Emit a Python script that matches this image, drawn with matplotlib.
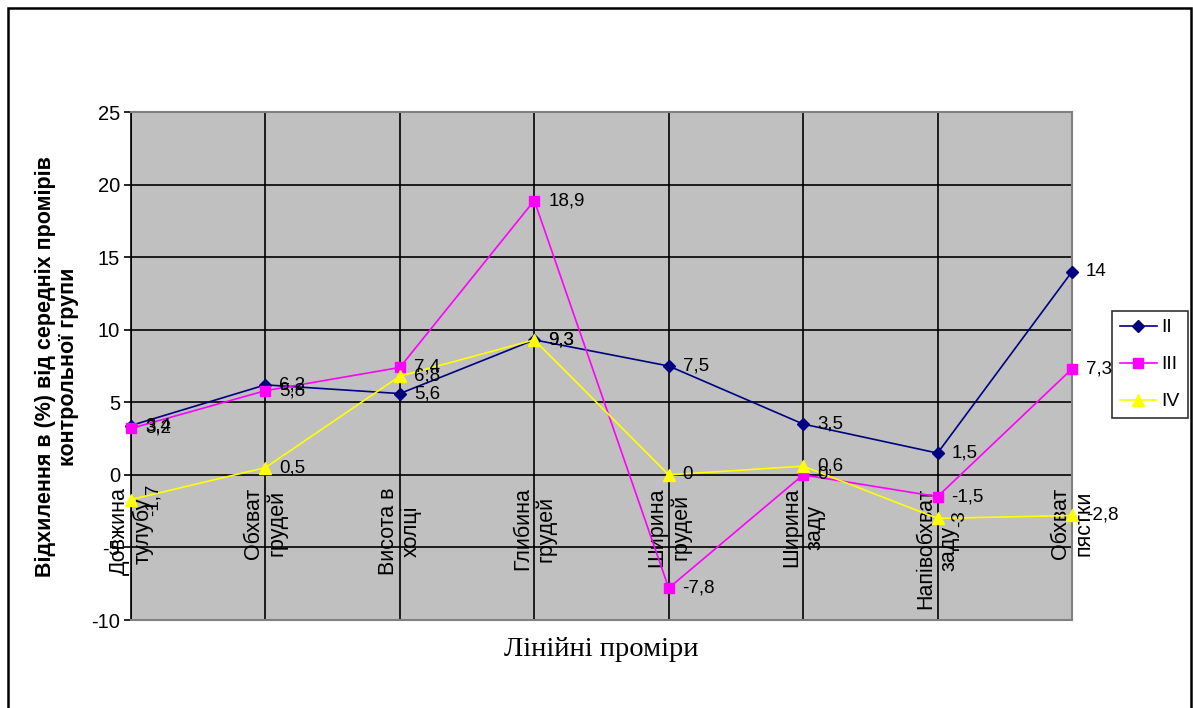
import matplotlib
matplotlib.use("Agg")
import matplotlib.pyplot as plt
from matplotlib.patches import Rectangle

categories = ["Довжина\nтулубу", "Обхват\nгрудей", "Висота в\nхолці", "Глибина\nгрудей",
              "Ширина\nгрудей", "Ширина\nзаду", "Напівобхват\nзаду", "Обхват\nпястки"]
series_names = ["II", "III", "IV"]
values_ii = [3.4, 6.2, 5.6, 9.3, 7.5, 3.5, 1.5, 14]
values_iii = [3.2, 5.8, 7.4, 18.9, -7.8, 0, -1.5, 7.3]
values_iv = [-1.7, 0.5, 6.8, 9.3, 0, 0.6, -3, -2.8]
y_ticks = [-10, -5, 0, 5, 10, 15, 20, 25]
# value labels that are set vertically (series name, category index)
vertical_labels = {("IV", 0), ("IV", 6)}

colors = ["#000080", "#FF00FF", "#FFFF00"]
markers = ["D", "s", "^"]
msizes = [6.5, 7.5, 8.5]

W, H = 1193, 708
fig = plt.figure(figsize=(W / 100, H / 100), dpi=100)
plt.rcParams["font.family"] = ["Liberation Sans", "DejaVu Sans"]

ax = fig.add_axes([131 / W, 88 / H, (1072 - 131) / W, (620 - 112) / H])
ax.set_facecolor("#C0C0C0")

x = list(range(len(categories)))
for vals, name, c, m, ms in zip([values_ii, values_iii, values_iv], series_names,
                                colors, markers, msizes):
    ax.plot(x, vals, color=c, marker=m, markersize=ms, linewidth=1.2,
            label=name, zorder=3, clip_on=False)
    for xi, v in zip(x, vals):
        lbl = ("%g" % v).replace(".", ",")
        if (name, xi) in vertical_labels:
            ax.annotate(lbl, (xi, v), xytext=(10, 0), textcoords="offset points",
                        rotation=90, ha="left", va="center", fontsize=13.5,
                        color="black", zorder=4)
        else:
            ax.annotate(lbl, (xi, v), xytext=(10, 0), textcoords="offset points",
                        ha="left", va="center", fontsize=13.5, color="black",
                        zorder=4)

ax.set_xlim(0, 7)
ax.set_ylim(-10, 25)
ax.set_yticks(y_ticks)
ax.set_yticklabels([str(t) for t in y_ticks], fontsize=14.5)
ax.tick_params(axis="y", direction="out", length=5, width=1.2, pad=3)
ax.set_xticks(x)
ax.set_xticklabels([])
ax.tick_params(axis="x", length=0)

ax.grid(True, axis="both", color="black", linewidth=1.2, zorder=1)
ax.set_axisbelow(True)

for side in ["top", "right", "bottom"]:
    ax.spines[side].set_color("#808080")
    ax.spines[side].set_linewidth(1.5)
ax.spines["left"].set_color("black")
ax.spines["left"].set_linewidth(1.2)

# category names sit just below the zero line, rotated
for xi, cat in zip(x, categories):
    ax.annotate(cat, (xi, 0), xytext=(0, -9), textcoords="offset points",
                rotation=90, ha="center", va="top", multialignment="center",
                fontsize=15.5, linespacing=1.15, zorder=2)

fig.text(57 / W, 1 - 367 / H, "Відхилення в (%) від середніх промірів\nконтрольної групи",
         rotation=90, ha="center", va="center", fontsize=15.5, fontweight="bold",
         multialignment="center", linespacing=1.15)
fig.text(601 / W, 1 - 650 / H, "Лінійні проміри", ha="center", va="center",
         fontsize=20.5, family=["Liberation Serif", "DejaVu Serif"])

leg = fig.legend(loc="upper left", bbox_to_anchor=(1112 / W, 1 - 311 / H),
                 borderaxespad=0, fontsize=14, frameon=True, fancybox=False,
                 edgecolor="black", handlelength=1.9, handletextpad=0.25,
                 labelspacing=1.0, borderpad=0.4)
leg.get_frame().set_linewidth(1.2)

fig.patches.append(Rectangle((8 / W, -0.05), (1191 - 8) / W, 1.05 - 8 / H,
                             transform=fig.transFigure, fill=False,
                             edgecolor="black", linewidth=1.8))

fig.savefig("out.png", dpi=100)
